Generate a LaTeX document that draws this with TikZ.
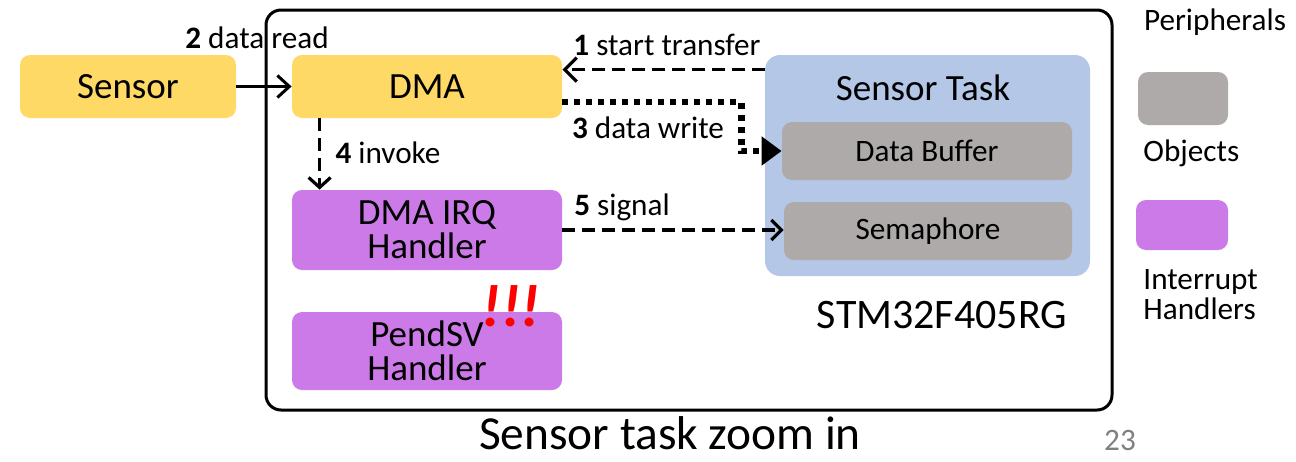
\documentclass[tikz,border=0pt]{standalone}
\usepackage{fontspec}
\setmainfont{Carlito}
\usepackage{tikz}
\usetikzlibrary{calc,positioning,arrows.meta,shapes}

\definecolor{periph}{HTML}{FFD966}
\definecolor{handler}{HTML}{CC7AE8}
\definecolor{object}{HTML}{AEAAAA}
\definecolor{taskbg}{HTML}{B4C7E7}

\tikzset{
  blk/.style={rectangle,rounded corners=5pt,inner sep=0pt,align=center,
    font=\fontsize{18.5}{17}\selectfont},
  lbl/.style={inner sep=0pt,font=\fontsize{15.6}{15}\selectfont},
  dasharr/.style={line width=1.6pt,dash pattern=on 6.5pt off 3.5pt},
  dotarr/.style={line width=3.2pt,dash pattern=on 3pt off 3pt}
}

\begin{document}
\begin{tikzpicture}[x=0.5pt,y=-0.5pt]
    \useasboundingbox (0,0) rectangle (1296,461);
    % outer board
    \node[draw,line width=1.5pt,rounded corners=7.5pt,minimum width=423pt,minimum height=200pt] at (689,210) (board) {};
    % peripherals
    \node[blk,fill=periph,minimum width=108pt,minimum height=31.5pt] at (128,86.5) (sensor) {Sensor};
    \node[blk,fill=periph,minimum width=135pt,minimum height=31.5pt] at (427,86.5) (dma) {DMA};
    % handlers
    \node[blk,fill=handler,minimum width=135pt,minimum height=40pt] at (427,230) (irq) {DMA IRQ\\Handler};
    \node[blk,fill=handler,minimum width=135pt,minimum height=39pt] at (427,351) (pendsv) {PendSV\\Handler};
    \node[inner sep=0pt,text=red,font=\fontsize{30}{30}\selectfont\bfseries\itshape] at (511,306) (alarm) {!!!};
    % sensor task
    \node[blk,fill=taskbg,rounded corners=7.5pt,minimum width=162.5pt,minimum height=110.5pt] at (927.5,165.5) (task) {};
    \node[blk] at (923,88) (tasklbl) {Sensor Task};
    \node[blk,fill=object,font=\fontsize{15.6}{15}\selectfont,minimum width=145pt,minimum height=29pt] at (927,151) (buf) {Data Buffer};
    \node[blk,fill=object,font=\fontsize{15.6}{15}\selectfont,minimum width=144pt,minimum height=29pt] at (928,231) (sema) {Semaphore};
    \node[inner sep=0pt,font=\fontsize{21}{21}\selectfont] at (942,315) (chip) {STM32F405RG};

    \draw[line width=1.5pt,-{Straight Barb[length=6pt,width=11pt]}] (sensor) -- (dma);
    \node[lbl] at (257,38) (l2) {\textbf{2} data read};

    \draw[dasharr,-{Straight Barb[length=6pt,width=12pt]}] ($(task.north west)+(0,15)$) coordinate (t1) -- (t1 -| dma.east);
    \node[lbl] at (667,45) (l1) {\textbf{1} start transfer};

    \draw[dotarr,-{Triangle[length=10pt,width=14pt]}] ($(dma.east)+(0,15.5)$) -| ($(buf.west)+(-40,0)$) -- (buf.west);
    \node[lbl] at (648,128) (l3) {\textbf{3} data write};

    \draw[dasharr,-{Straight Barb[length=5pt,width=11pt]}] ($(dma.south west)+(28,0)$) coordinate (t4) -- (t4 |- irq.north);
    \node[lbl] at (388,153) (l4) {\textbf{4} invoke};

    \draw[dasharr,-{Straight Barb[length=5pt,width=10pt]}] (irq.east) -- (irq.east -| sema.west);
    \node[lbl] at (622,207) (l5) {\textbf{5} signal};

    % legend
    \node[lbl] at (1215,22) (legp) {Peripherals};
    \node[blk,fill=object,minimum width=45pt,minimum height=26.5pt] at (1183,98.5) (lego) {};
    \node[lbl,anchor=west] at (1143,153) (legol) {Objects};
    \node[blk,fill=handler,minimum width=46pt,minimum height=25pt] at (1182,225) (legh) {};
    \node[lbl,anchor=west,align=left] at (1143,295) (leghl) {Interrupt\\Handlers};

    \node[inner sep=0pt,anchor=base,font=\fontsize{23.7}{24}\selectfont] at (670,449) (title) {Sensor task zoom in};
    \node[inner sep=0pt,text=gray,font=\fontsize{15.6}{15}\selectfont] at (1120,440) (page) {23};
  \end{tikzpicture}
\end{document}
